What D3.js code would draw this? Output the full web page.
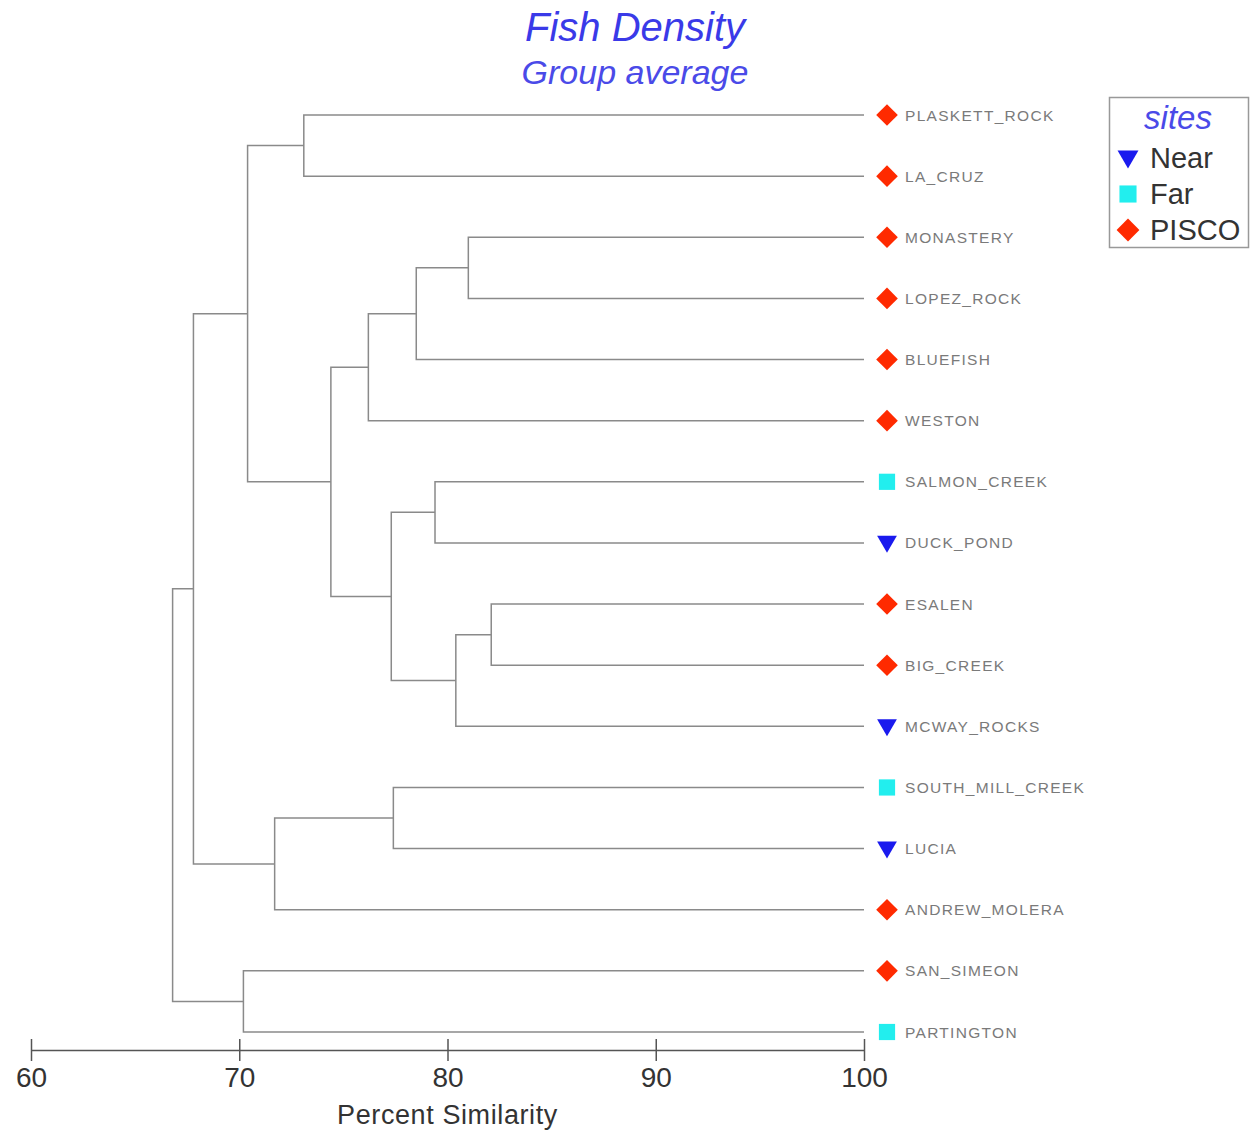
<!DOCTYPE html>
<html><head><meta charset="utf-8">
<script src="https://cdn.jsdelivr.net/npm/d3@7"></script>
<style>body{margin:0;background:#fff}svg{display:block}</style>
</head><body>
<script>
const leaves = ["PLASKETT_ROCK","LA_CRUZ","MONASTERY","LOPEZ_ROCK","BLUEFISH","WESTON","SALMON_CREEK","DUCK_POND","ESALEN","BIG_CREEK","MCWAY_ROCKS","SOUTH_MILL_CREEK","LUCIA","ANDREW_MOLERA","SAN_SIMEON","PARTINGTON"];
const siteType = ["PISCO","PISCO","PISCO","PISCO","PISCO","PISCO","Far","Near","PISCO","PISCO","Near","Far","Near","PISCO","PISCO","Far"];
// merges: [childA, childB, similarity]; indices < 16 are leaves, >=16 are earlier merges
const merges = [
  [0,1,73.1],[2,3,81.0],[17,4,78.5],[18,5,76.2],[6,7,79.4],[8,9,82.1],[21,10,80.4],
  [20,22,77.3],[19,23,74.4],[16,24,70.4],[11,12,77.4],[26,13,71.7],[25,27,67.8],[14,15,70.2],[28,29,66.8]
];
const xTicks = [60,70,80,90,100];
const legendCats = ["Near","Far","PISCO"];
const legendColors = ["#1a1aee","#22eeee","#ff2a00"];

const W=1254,H=1133;
const FONT="Liberation Sans, Arial, sans-serif";
const svg=d3.select("body").append("svg").attr("width",W).attr("height",H);
const x=d3.scaleLinear().domain([60,100]).range([31,864]);
const y=d3.scalePoint().domain(d3.range(leaves.length)).range([115,1032]);
const color=d3.scaleOrdinal().domain(legendCats).range(legendColors);

const nodes=leaves.map((l,i)=>({x:x(100),y:y(i)}));
merges.forEach(m=>nodes.push({x:x(m[2]),y:(nodes[m[0]].y+nodes[m[1]].y)/2}));

const g=svg.append("g").attr("fill","none").attr("stroke","#8a8a8a").attr("stroke-width",1.5);
merges.forEach(m=>{
  const p=x(m[2]);const a=nodes[m[0]],b=nodes[m[1]];
  g.append("path").attr("d",`M${a.x},${a.y}H${p}V${b.y}H${b.x}`);
});

// axis
const axisY=1050;
const ax=svg.append("g").attr("transform",`translate(0,${axisY})`)
  .call(d3.axisBottom(x).tickValues(xTicks).tickSize(0).tickPadding(17));
ax.select(".domain").attr("stroke","#555").attr("stroke-width",1.5);
ax.selectAll(".tick line").remove();
ax.selectAll(".tick").append("line").attr("y1",-11).attr("y2",11).attr("stroke","#555").attr("stroke-width",1.5);
ax.selectAll(".tick text").attr("font-family",FONT).attr("font-size",28).attr("fill","#333");
svg.append("text").attr("x",x(80)).attr("y",1124).attr("text-anchor","middle")
  .attr("font-family",FONT).attr("font-size",27).attr("letter-spacing",0.6).attr("fill","#333").text("Percent Similarity");

function square(sel,cx,cy,s,c){sel.append("rect").attr("x",cx-s/2).attr("y",cy-s/2).attr("width",s).attr("height",s).attr("fill",c);}
function tri(sel,cx,cy,s,c){sel.append("path").attr("d",`M${cx-s*0.55},${cy-s*0.4}L${cx+s*0.55},${cy-s*0.4}L${cx},${cy+s*0.55}Z`).attr("fill",c);}
function diamond(sel,cx,cy,r,c){sel.append("path").attr("d",`M${cx},${cy-r}L${cx+r},${cy}L${cx},${cy+r}L${cx-r},${cy}Z`).attr("fill",c);}
function marker(sel,t,cx,cy,s){
  if(t==="PISCO") diamond(sel,cx,cy,s*0.6,color(t));
  else if(t==="Far") square(sel,cx,cy,s*0.9,color(t));
  else tri(sel,cx,cy,s,color(t));
}

const lg=svg.append("g");
leaves.forEach((l,i)=>{
  marker(lg,siteType[i],887,y(i),18);
  lg.append("text").attr("x",905).attr("y",y(i)+5.5).attr("font-family",FONT)
    .attr("font-size",15.5).attr("letter-spacing",1.3).attr("fill","#7a7a7a").text(l);
});

// title
svg.append("text").attr("x",635).attr("y",41).attr("text-anchor","middle").attr("font-family",FONT)
  .attr("font-style","italic").attr("font-size",40).attr("fill","#3a3ae8").text("Fish Density");
svg.append("text").attr("x",635).attr("y",84).attr("text-anchor","middle").attr("font-family",FONT)
  .attr("font-style","italic").attr("font-size",34).attr("fill","#4a4ae8").text("Group average");

// legend
const leg=svg.append("g");
leg.append("rect").attr("x",1109.5).attr("y",97.5).attr("width",139).attr("height",150).attr("fill","#fff").attr("stroke","#999").attr("stroke-width",1.5);
leg.append("text").attr("x",1178).attr("y",129).attr("text-anchor","middle").attr("font-family",FONT)
  .attr("font-style","italic").attr("font-size",33).attr("fill","#4a4ae8").text("sites");
legendCats.forEach((c,i)=>{
  const cy=158+i*36;
  marker(leg,c,1128,cy,19);
  leg.append("text").attr("x",1150).attr("y",cy+10).attr("font-family",FONT)
    .attr("font-size",29).attr("fill","#333").text(c);
});
</script>
</body></html>
